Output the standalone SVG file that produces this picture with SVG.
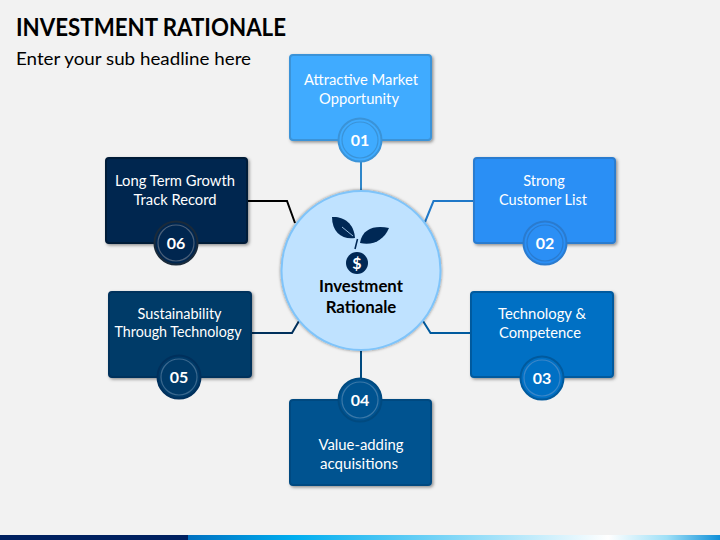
<svg xmlns="http://www.w3.org/2000/svg" width="720" height="540" viewBox="0 0 720 540">
<style>
text{font-family:"Lato","Liberation Sans",sans-serif}
.lbl{font-size:14.5px;fill:#fff;text-anchor:middle}
.num{font-size:16px;font-weight:700;fill:#fff;text-anchor:middle}
.box{stroke-width:2;filter:url(#sh)}
.conn{fill:none;stroke-width:2}
.ring{fill:none;stroke-width:1.2}
</style>
<defs>
<filter id="sh" x="-20%" y="-20%" width="140%" height="140%"><feDropShadow dx="1.5" dy="1.5" stdDeviation="1.5" flood-color="#000" flood-opacity=".4"/></filter>
<filter id="gl" x="-10%" y="-10%" width="120%" height="120%"><feDropShadow dx="0" dy="0" stdDeviation="1.5" flood-color="#000" flood-opacity=".5"/></filter>
<linearGradient id="bar" x1="0" x2="1" y1="0" y2="0">
<stop offset="0" stop-color="#0070c0"/><stop offset=".2" stop-color="#00aeef"/><stop offset=".79" stop-color="#fff"/><stop offset=".9" stop-color="#9fe0f7"/><stop offset="1" stop-color="#0f8fd8"/>
</linearGradient>
</defs>
<rect width="720" height="540" fill="#f2f2f2"/>
<text x="16" y="36" font-size="24.5" font-weight="700" fill="#000" textLength="270" lengthAdjust="spacingAndGlyphs">INVESTMENT RATIONALE</text>
<text x="16" y="65" font-size="18" fill="#000" textLength="235" lengthAdjust="spacingAndGlyphs">Enter your sub headline here</text>
<g id="connectors">
<path class="conn" stroke="#2e86c9" d="M361 160V192"/>
<path class="conn" stroke="#1f78c8" d="M474 201H433.500L425 222"/>
<path class="conn" stroke="#005a9e" d="M471 333H430.500L423 321"/>
<path class="conn" stroke="#004a80" d="M361 350V380"/>
<path class="conn" stroke="#00305c" d="M251 333H292L299 321"/>
<path class="conn" stroke="#000" d="M247 201H287L295 223"/>
</g>
<g id="center">
<circle cx="361" cy="270.500" r="79.500" fill="#bfe2ff" stroke="#7fc4fa" stroke-width="2" filter="url(#gl)"/>
<path d="M332 217C342 216 354 222 355 238C343 240 332 233 332 217Z" fill="#002855"/>
<path d="M342 227L353 236" stroke="#bfe2ff" stroke-width=".8"/>
<path d="M389 228C376 225 362 228 360 243C373 246 384 240 389 228Z" fill="#002855"/>
<path d="M357.500 239L355 249" stroke="#002855" stroke-width="1.500"/>
<circle cx="357" cy="263" r="11" fill="#002855"/>
<text x="357" y="269" font-size="16" font-weight="700" fill="#fff" text-anchor="middle">$</text>
<text x="361" y="292" font-size="16.800" font-weight="700" fill="#000" text-anchor="middle">Investment</text>
<text x="361" y="313" font-size="16.800" font-weight="700" fill="#000" text-anchor="middle">Rationale</text>
</g>
<g id="n01">
<rect class="box" x="290" y="55" width="141" height="85" rx="3" fill="#3fabff" stroke="#3a93d8"/>
<text class="lbl" x="361" y="85" textLength="114" lengthAdjust="spacingAndGlyphs">Attractive Market</text><text class="lbl" x="359" y="104" textLength="80" lengthAdjust="spacingAndGlyphs">Opportunity</text>
<circle cx="360" cy="140" r="21.500" fill="#3fabff" stroke="#3a93d8" stroke-width="2"/><circle class="ring" cx="360" cy="140" r="18" stroke="#3a93d8"/>
<text class="num" x="360" y="145.500">01</text>
</g>
<g id="n02">
<rect class="box" x="474" y="158" width="141" height="85" rx="3" fill="#2b8ff5" stroke="#2a7bcf"/>
<text class="lbl" x="544" y="186">Strong</text><text class="lbl" x="543" y="205" textLength="88" lengthAdjust="spacingAndGlyphs">Customer List</text>
<circle cx="545" cy="243" r="21.500" fill="#2b8ff5" stroke="#2a7bcf" stroke-width="2"/><circle class="ring" cx="545" cy="243" r="18" stroke="#2a7bcf"/>
<text class="num" x="545" y="248.500">02</text>
</g>
<g id="n03">
<rect class="box" x="471" y="292" width="142" height="85" rx="3" fill="#0070c4" stroke="#005a9e"/>
<text class="lbl" x="542" y="319" textLength="88" lengthAdjust="spacingAndGlyphs">Technology &amp;</text><text class="lbl" x="540" y="338" textLength="82" lengthAdjust="spacingAndGlyphs">Competence</text>
<circle cx="542" cy="378" r="21.500" fill="#0070c4" stroke="#005a9e" stroke-width="2"/><circle class="ring" cx="542" cy="378" r="18" stroke="#3a86c8"/>
<text class="num" x="542" y="383.500">03</text>
</g>
<g id="n04">
<rect class="box" x="290" y="400" width="141" height="85" rx="3" fill="#005390" stroke="#004a80"/>
<text class="lbl" x="361" y="450" textLength="85" lengthAdjust="spacingAndGlyphs">Value-adding</text><text class="lbl" x="359" y="469" textLength="78" lengthAdjust="spacingAndGlyphs">acquisitions</text>
<circle cx="360" cy="400" r="21.500" fill="#005390" stroke="#004a80" stroke-width="2"/><circle class="ring" cx="360" cy="400" r="18" stroke="#3a78a8"/>
<text class="num" x="360" y="405.500">04</text>
</g>
<g id="n05">
<rect class="box" x="109" y="292" width="142" height="85" rx="3" fill="#003a68" stroke="#00305c"/>
<text class="lbl" x="179.500" y="319" textLength="84" lengthAdjust="spacingAndGlyphs">Sustainability</text><text class="lbl" x="178" y="337" textLength="127" lengthAdjust="spacingAndGlyphs">Through Technology</text>
<circle cx="179" cy="377" r="21.500" fill="#003a68" stroke="#00305c" stroke-width="2"/><circle class="ring" cx="179" cy="377" r="18" stroke="#3a688e"/>
<text class="num" x="179" y="382.500">05</text>
</g>
<g id="n06">
<rect class="box" x="106" y="158" width="141" height="85" rx="3" fill="#00264f" stroke="#001a38"/>
<text class="lbl" x="175" y="186" textLength="120" lengthAdjust="spacingAndGlyphs">Long Term Growth</text><text class="lbl" x="175" y="205" textLength="83" lengthAdjust="spacingAndGlyphs">Track Record</text>
<circle cx="176" cy="243" r="21.500" fill="#00264f" stroke="#1a2a3a" stroke-width="2"/><circle class="ring" cx="176" cy="243" r="18" stroke="#4a5f78"/>
<text class="num" x="176" y="248.500">06</text>
</g>
<g id="footer">
<rect x="0" y="535" width="188" height="5" fill="#002060"/>
<rect x="188" y="535" width="532" height="5" fill="url(#bar)"/>
</g>
</svg>
